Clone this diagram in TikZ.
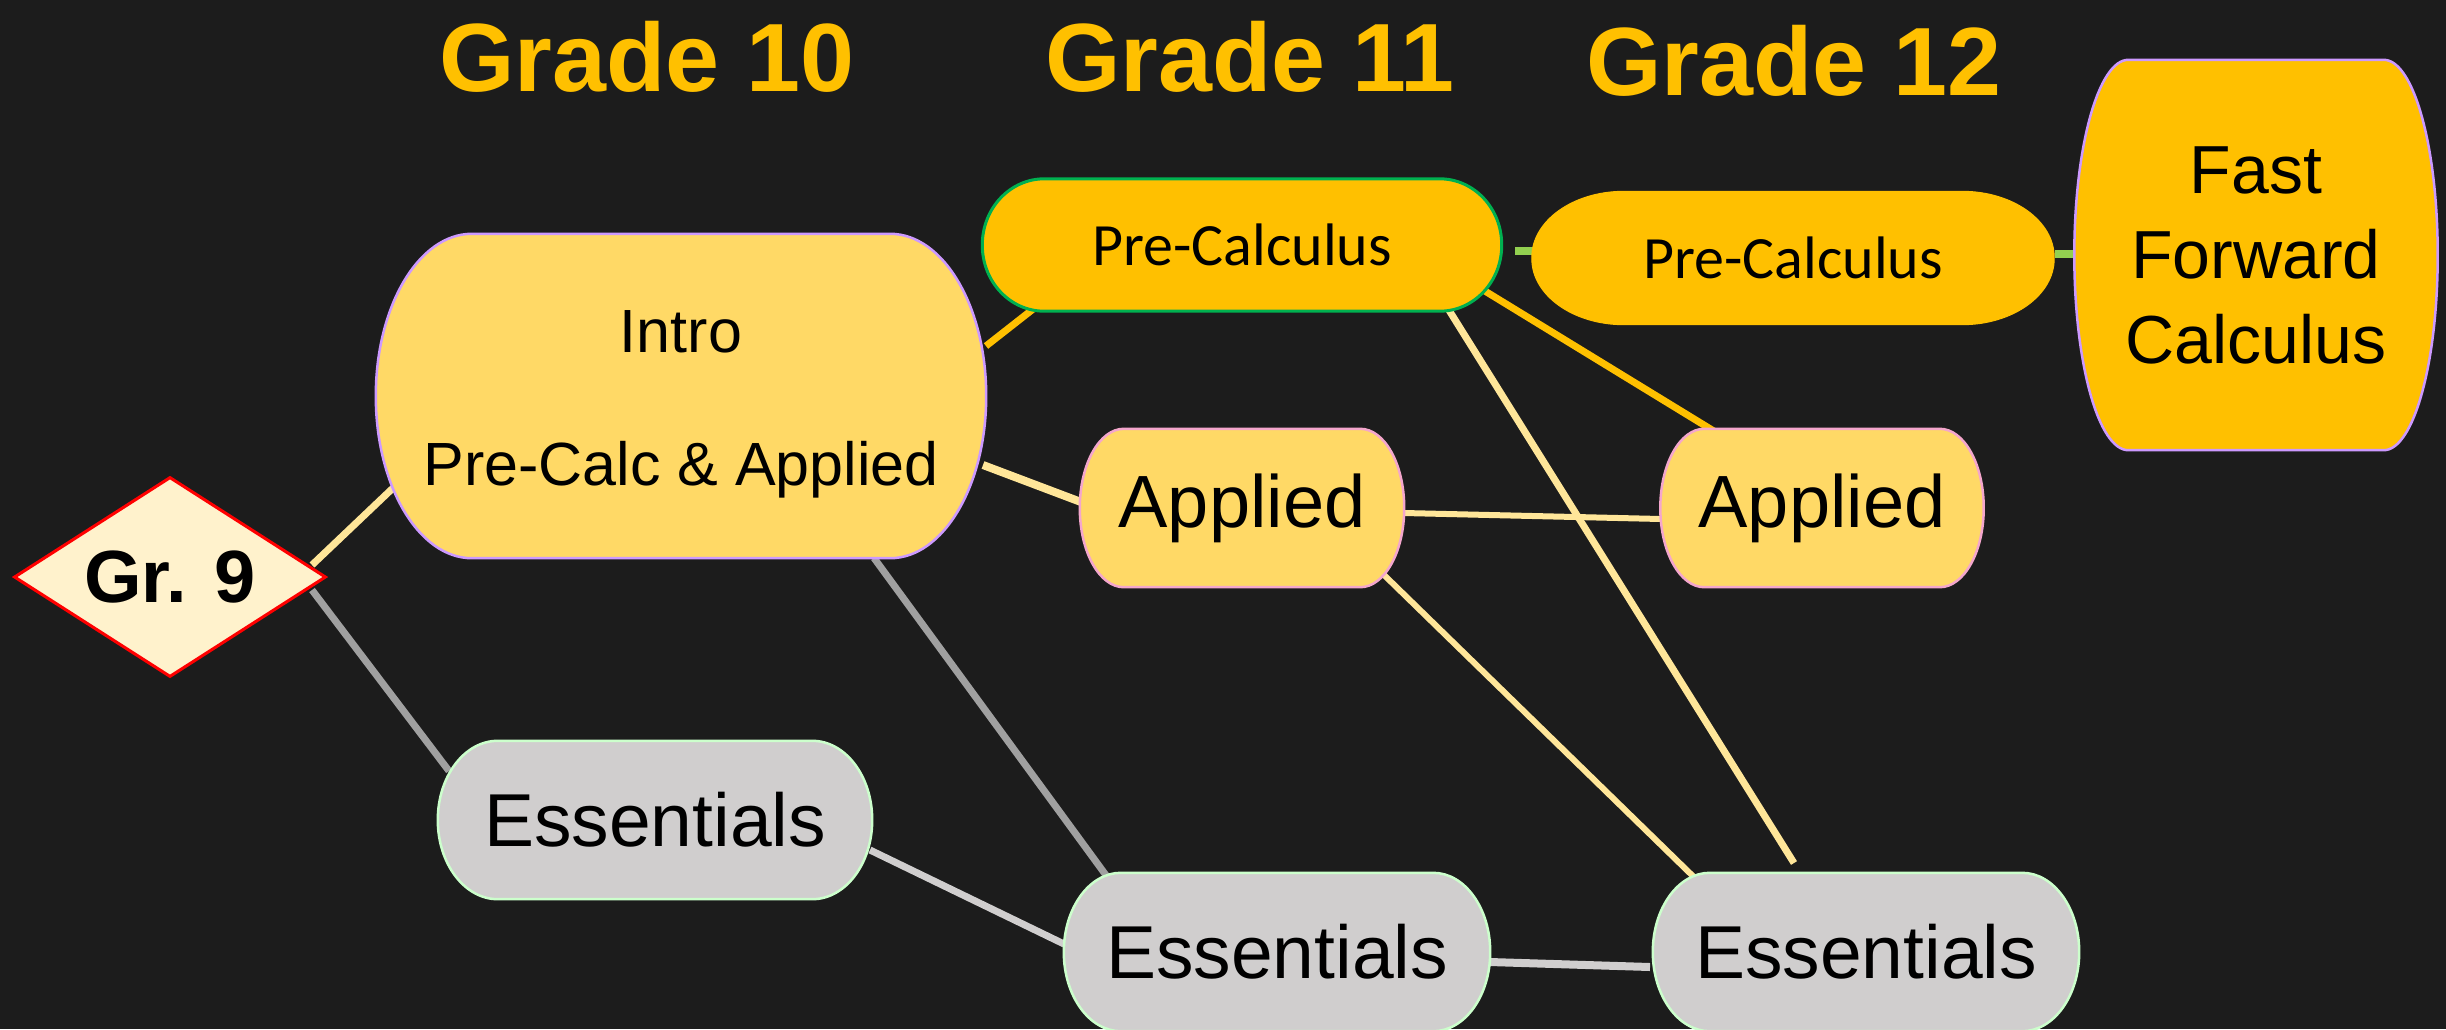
\documentclass[tikz,border=0pt]{standalone}
\usepackage{fontspec}
\setmainfont{Liberation Sans}
\newfontfamily\calfont{Carlito}
\usetikzlibrary{shapes.geometric,calc}
\pgfdeclarelayer{bg}\pgfdeclarelayer{edges}\pgfdeclarelayer{shapes}
\pgfsetlayers{bg,edges,shapes,main}
\definecolor{bgc}{HTML}{1C1C1C}
\definecolor{gold}{HTML}{FFC000}
\definecolor{ltgold}{HTML}{FFD966}
\definecolor{paleyel}{HTML}{FFE699}
\definecolor{cream}{HTML}{FFF2CC}
\definecolor{lav}{HTML}{CC99FF}
\definecolor{pinkb}{HTML}{F4A6CC}
\definecolor{greenb}{HTML}{00B050}
\definecolor{ltgreen}{HTML}{92D050}
\definecolor{essf}{HTML}{D0CECE}
\definecolor{essb}{HTML}{CCFFCC}
\definecolor{midgray}{HTML}{A0A0A0}
\definecolor{ltgray}{HTML}{D0CECE}
\newcommand\drawcapsule[4]{%
  \begin{pgfonlayer}{shapes}
  \draw[#4] ([xshift=#2pt]#1.north west) -- ([xshift=-#2pt]#1.north east)
    arc[start angle=90,end angle=0,x radius=#2pt,y radius=#3pt]
    -- ([yshift=#3pt]#1.south east)
    arc[start angle=0,end angle=-90,x radius=#2pt,y radius=#3pt]
    -- ([xshift=#2pt]#1.south west)
    arc[start angle=270,end angle=180,x radius=#2pt,y radius=#3pt]
    -- ([yshift=-#3pt]#1.north west)
    arc[start angle=180,end angle=90,x radius=#2pt,y radius=#3pt] -- cycle;
  \end{pgfonlayer}}
\tikzset{
  box/.style={rectangle, draw=none, inner sep=0pt, align=center, text=black},
  hdr/.style={inner sep=0pt, text=gold, font=\bfseries\fontsize{97}{110}\selectfont},
  conn/.style={line width=7pt},
}
\begin{document}
\begin{tikzpicture}[x=1pt,y=1pt]
\begin{pgfonlayer}{bg}
\fill[bgc] (0,0) rectangle (2446,-1029);
\end{pgfonlayer}
\useasboundingbox (0,0) rectangle (2446,-1029);

% headers
\node[hdr] (g10) at (647,-57) {Grade 10};
\node[hdr] (g11) at (1250,-57) {Grade 11};
\node[hdr] (g12) at (1794,-61) {Grade 12};

% nodes
\node[diamond, draw=red, line width=3pt, fill=cream, inner sep=0pt, shape aspect=1.56,
      minimum width=312pt, minimum height=200pt, text=black,
      font=\bfseries\fontsize{74}{80}\selectfont] (gr9) at (170,-577) {Gr. 9};

\node[box, minimum width=610pt, minimum height=324pt] (intro) at (681,-396) {};
\node[box, font=\fontsize{61}{133}\selectfont] (introtxt) at ([yshift=-8pt]intro.center)
  {Intro\\Pre-Calc \& Applied};
\node[box, minimum width=519pt, minimum height=132pt, font=\calfont\fontsize{60}{70}\selectfont]
  (pc11) at (1242,-245) {Pre-Calculus};
\node[box, minimum width=522pt, minimum height=133pt, font=\calfont\fontsize{60}{70}\selectfont]
  (pc12) at (1793,-258) {Pre-Calculus};
\node[box, minimum width=363pt, minimum height=390pt, font=\fontsize{68}{85}\selectfont]
  (ffc) at (2256,-255) {Fast\\Forward\\Calculus};
\node[box, minimum width=324pt, minimum height=158pt, font=\fontsize{74}{80}\selectfont]
  (app11) at (1242,-508) {Applied};
\node[box, minimum width=323pt, minimum height=158pt, font=\fontsize{74}{80}\selectfont]
  (app12) at (1822,-508) {Applied};
\node[box, minimum width=434pt, minimum height=158pt, font=\fontsize{75}{80}\selectfont]
  (ess10) at (655,-820) {Essentials};
\node[box, minimum width=426pt, minimum height=158pt, font=\fontsize{75}{80}\selectfont]
  (ess11) at (1277,-952) {Essentials};
\node[box, minimum width=426pt, minimum height=158pt, font=\fontsize{75}{80}\selectfont]
  (ess12) at (1866,-952) {Essentials};

% shapes
\drawcapsule{intro}{96}{162}{fill=ltgold, draw=lav, line width=2.5pt}
\drawcapsule{pc11}{62}{66}{fill=gold, draw=greenb, line width=3pt}
\drawcapsule{pc12}{92}{66}{fill=gold, draw=gold, line width=1pt}
\drawcapsule{ffc}{54}{195}{fill=gold, draw=lav, line width=2.5pt}
\drawcapsule{app11}{44}{79}{fill=ltgold, draw=pinkb, line width=2.5pt}
\drawcapsule{app12}{44}{79}{fill=ltgold, draw=pinkb, line width=2.5pt}
\drawcapsule{ess10}{60}{79}{fill=essf, draw=essb, line width=2.5pt}
\drawcapsule{ess11}{57}{79}{fill=essf, draw=essb, line width=2.5pt}
\drawcapsule{ess12}{57}{79}{fill=essf, draw=essb, line width=2.5pt}

% connectors
\begin{pgfonlayer}{edges}
\draw[conn, paleyel] ([shift={(142,12)}]gr9.center) -- ([shift={(-288,-92)}]intro.center);
\draw[conn, midgray] ([shift={(142,-13)}]gr9.center) -- ([shift={(-206,49)}]ess10.center);
\draw[conn, gold] ([shift={(305,50)}]intro.center) -- ([shift={(-205,-61)}]pc11.center);
\draw[line width=8pt, paleyel] ([shift={(302,-69)}]intro.center) -- ([shift={(-161,6)}]app11.center);
\draw[conn, midgray] ([shift={(193,-162)}]intro.center) -- ([shift={(-169,74)}]ess11.center);
\draw[line width=8pt, ltgreen] ([shift={(273,-6)}]pc11.center) -- ([shift={(-256,7)}]pc12.center);
\draw[line width=8pt, ltgreen] ([shift={(262,4)}]pc12.center) -- ([shift={(-181,1)}]ffc.center);
\draw[conn, gold] ([shift={(238,-43)}]pc11.center) -- ([shift={(-105,75)}]app12.center);
\draw[conn, paleyel] ([shift={(205,-62)}]pc11.center) -- ([shift={(-72,89)}]ess12.center);
\draw[line width=6pt, paleyel] ([shift={(162,-5)}]app11.center) -- ([shift={(-161,-11)}]app12.center);
\draw[line width=6pt, paleyel] ([shift={(140,-65)}]app11.center) -- ([shift={(-166,69)}]ess12.center);
\draw[conn, ltgray] ([shift={(215,-30)}]ess10.center) -- ([shift={(-213,8)}]ess11.center);
\draw[line width=8pt, ltgray] ([shift={(213,-10)}]ess11.center) -- ([shift={(-216,-15)}]ess12.center);
\end{pgfonlayer}
\end{tikzpicture}
\end{document}
